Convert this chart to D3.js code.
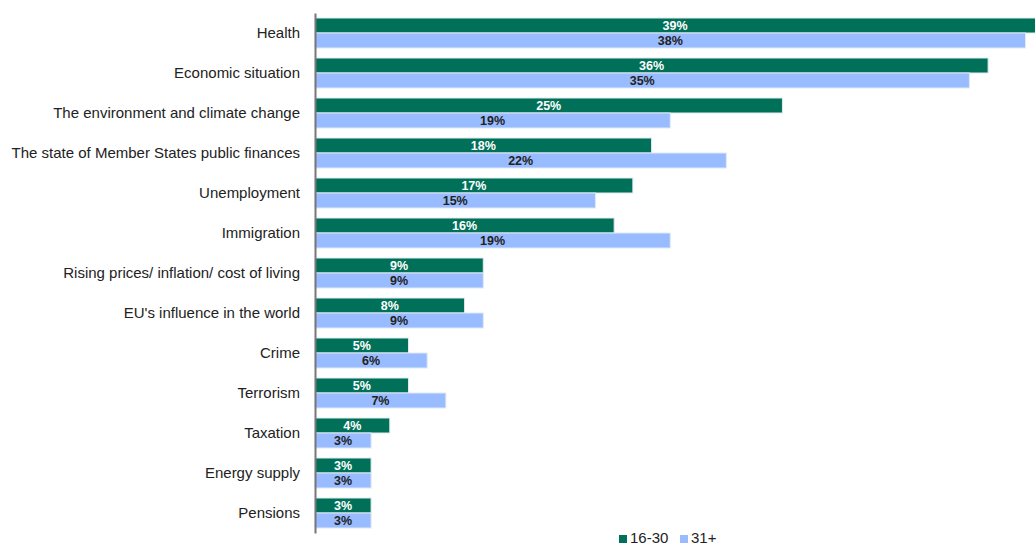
<!DOCTYPE html>
<html>
<head>
<meta charset="utf-8">
<script src="https://cdn.jsdelivr.net/npm/d3@7"></script>
<style>
  html, body { margin: 0; padding: 0; background: #fff; }
  svg { display: block; }
</style>
</head>
<body>
<svg id="chart" width="1035" height="546"></svg>
<script>
// Issues considered most important, by age group (%)
const categories = [
  "Health",
  "Economic situation",
  "The environment and climate change",
  "The state of Member States public finances",
  "Unemployment",
  "Immigration",
  "Rising prices/ inflation/ cost of living",
  "EU's influence in the world",
  "Crime",
  "Terrorism",
  "Taxation",
  "Energy supply",
  "Pensions"
];
const young = [39, 36, 25, 18, 17, 16, 9, 8, 5, 5, 4, 3, 3];   // 16-30
const older = [38, 35, 19, 22, 15, 19, 9, 9, 6, 7, 3, 3, 3];   // 31+
const seriesNames = ["16-30", "31+"];
const colors = ["#007158", "#99bbff"];
const labelColors = ["#ffffff", "#222222"];

const svg = d3.select("#chart");
const W = 1035, H = 546;
const x0 = 315;
const font = "Liberation Sans, Arial, sans-serif";

const x = d3.scaleLinear().domain([0, 38]).range([x0, 1025.5]);
const y = d3.scaleBand().domain(categories).range([13, 533]).paddingInner(0.25).paddingOuter(0.125);
const ySub = d3.scaleBand().domain(seriesNames).range([0, y.bandwidth()]);

svg.append("defs").append("clipPath").attr("id", "plot-clip")
  .append("rect").attr("x", 0).attr("y", 0).attr("width", W).attr("height", H);

const rows = categories.map((c, i) => ({ cat: c, vals: [young[i], older[i]] }));

const g = svg.append("g").attr("clip-path", "url(#plot-clip)");

const groups = g.selectAll("g.row").data(rows).join("g")
  .attr("class", "row")
  .attr("transform", d => `translate(0,${y(d.cat)})`);

groups.selectAll("rect").data(d => d.vals.map((v, k) => ({ v, k })))
  .join("rect")
  .attr("x", x(0))
  .attr("y", d => ySub(seriesNames[d.k]))
  .attr("width", d => x(d.v) - x(0))
  .attr("height", ySub.bandwidth())
  .attr("fill", d => colors[d.k])
  .attr("stroke", "#dfeaf2")
  .attr("stroke-width", 1);

groups.selectAll("text.val").data(d => d.vals.map((v, k) => ({ v, k })))
  .join("text")
  .attr("class", "val")
  .attr("x", d => (x(0) + Math.min(x(d.v), W)) / 2)
  .attr("y", d => ySub(seriesNames[d.k]) + ySub.bandwidth() / 2)
  .attr("dy", "0.36em")
  .attr("text-anchor", "middle")
  .attr("font-family", font)
  .attr("font-weight", "bold")
  .attr("font-size", 12.5)
  .attr("fill", d => labelColors[d.k])
  .text(d => d.v + "%");

// Category axis
const axis = svg.append("g")
  .attr("transform", `translate(${x0},0)`)
  .call(d3.axisLeft(y).tickSize(0).tickPadding(15));
axis.select(".domain").attr("stroke", "#777").attr("stroke-width", 2);
axis.selectAll("text")
  .attr("dy", "0.35em")
  .attr("font-family", font)
  .attr("font-size", 15)
  .attr("fill", "#222");

// Legend
const legend = svg.append("g").attr("transform", "translate(619,538)");
const offsets = [0, 61];
seriesNames.forEach((name, k) => {
  const it = legend.append("g").attr("transform", `translate(${offsets[k]},0)`);
  it.append("rect").attr("x", 0).attr("y", -3).attr("width", 8).attr("height", 8).attr("fill", colors[k]);
  it.append("text").attr("x", 11).attr("y", 0).attr("dy", "0.36em")
    .attr("font-family", font)
    .attr("font-size", 15).attr("fill", "#222").text(name);
});
</script>
</body>
</html>
